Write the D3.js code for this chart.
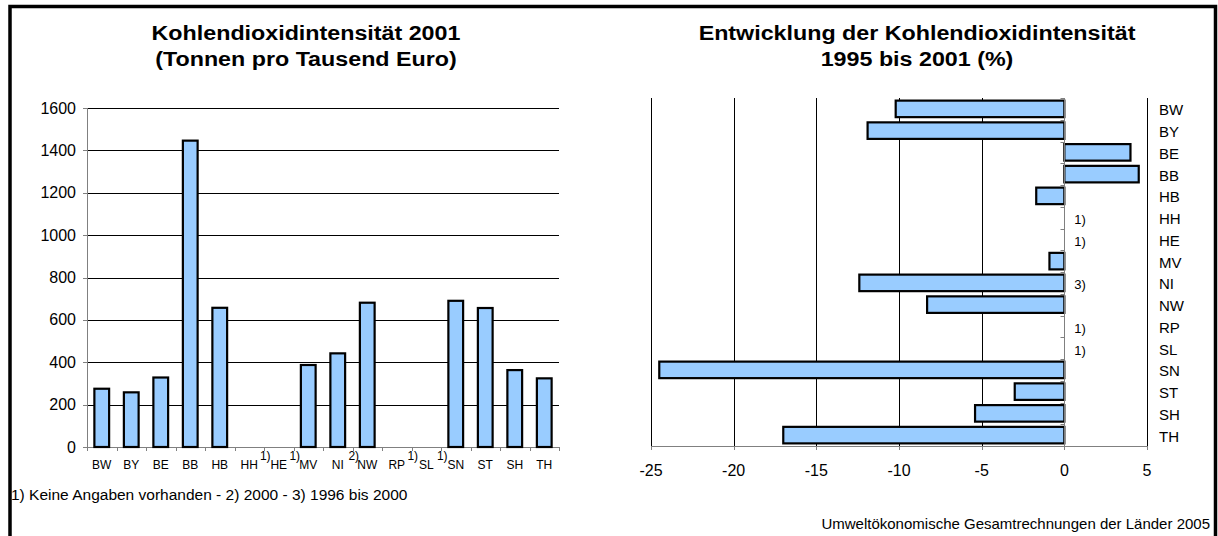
<!DOCTYPE html>
<html><head><meta charset="utf-8">
<script src="https://cdn.jsdelivr.net/npm/d3@7"></script>
<style>
html,body{margin:0;padding:0;background:#fff;}
svg{display:block;font-family:"Liberation Sans",Arial,sans-serif;}
</style></head>
<body>
<svg id="c" width="1218" height="536"></svg>
<script>
const categories = ["BW","BY","BE","BB","HB","HH","HE","MV","NI","NW","RP","SL","SN","ST","SH","TH"];
const intensity2001 = [275, 258, 328, 1446, 657, null, null, 387, 442, 681, null, null, 690, 656, 363, 324];
const intensityNotes = ["","","","","","1)","1)","","2)","","1)","1)","","","",""];
const change1995to2001 = [-10.2, -11.9, 4.0, 4.5, -1.7, null, null, -0.9, -12.4, -8.3, null, null, -24.5, -3.0, -5.4, -17.0];
const changeNotes = ["","","","","","1)","1)","","3)","","1)","1)","","","",""];
const leftTicks = [0,200,400,600,800,1000,1200,1400,1600];
const rightTicks = [-25,-20,-15,-10,-5,0,5];
const leftTitle = ["Kohlendioxidintensität 2001","(Tonnen pro Tausend Euro)"];
const rightTitle = ["Entwicklung der Kohlendioxidintensität","1995 bis 2001 (%)"];
const footnote = "1) Keine Angaben vorhanden - 2) 2000 - 3) 1996 bis 2000";
const source = "Umweltökonomische Gesamtrechnungen der Länder 2005";

const svg = d3.select("#c");
const FILL = "#99CCFF";

// frame
svg.append("path").attr("d","M10,540 L10,6.5 L1215.5,6.5 L1215.5,540")
  .attr("fill","none").attr("stroke","#000").attr("stroke-width",3.5);

function title(g, lines, cx) {
  lines.forEach((t,i) => {
    g.append("g").attr("transform",`translate(${cx},${33.5+i*26}) scale(1.2,1)`)
      .append("text").attr("text-anchor","middle").attr("dominant-baseline","central")
      .attr("font-size",19.4).attr("font-weight","bold").text(t);
  });
}

// ---------- Left chart ----------
const xL = d3.scaleBand().domain(categories).range([87,559]);
const yL = d3.scaleLinear().domain([0,1600]).range([447,108]);
const gL = svg.append("g");

gL.selectAll("line.grid").data(leftTicks.filter(d=>d>0)).join("line")
  .attr("x1",87).attr("x2",559).attr("y1",d=>Math.round(yL(d))+0.5).attr("y2",d=>Math.round(yL(d))+0.5)
  .attr("stroke","#000").attr("stroke-width",1);

gL.append("line").attr("x1",87.5).attr("x2",87.5).attr("y1",108).attr("y2",447.5).attr("stroke","#808080");
gL.selectAll("line.yt").data(leftTicks).join("line")
  .attr("x1",83).attr("x2",87).attr("y1",d=>Math.round(yL(d))+0.5).attr("y2",d=>Math.round(yL(d))+0.5).attr("stroke","#808080");
gL.selectAll("text.yl").data(leftTicks).join("text")
  .attr("x",76).attr("y",d=>yL(d)).attr("text-anchor","end").attr("dominant-baseline","central")
  .attr("font-size",16).text(d=>d);

gL.append("line").attr("x1",87).attr("x2",559).attr("y1",447.5).attr("y2",447.5).attr("stroke","#808080");
const bounds = categories.map(c=>xL(c)).concat([xL(categories[categories.length-1])+xL.step()]);
gL.selectAll("line.xt").data(bounds).join("line")
  .attr("x1",d=>Math.round(d)+0.5).attr("x2",d=>Math.round(d)+0.5).attr("y1",447).attr("y2",451).attr("stroke","#808080");
gL.selectAll("text.xl").data(categories).join("text")
  .attr("x",d=>xL(d)+xL.bandwidth()/2).attr("y",465).attr("text-anchor","middle").attr("dominant-baseline","central")
  .attr("font-size",12).text(d=>d);
gL.selectAll("text.xn").data(categories.map((c,i)=>({c,n:intensityNotes[i]})).filter(d=>d.n)).join("text")
  .attr("x",d=>xL(d.c)+xL.bandwidth()/2+16).attr("y",456).attr("text-anchor","middle").attr("dominant-baseline","central")
  .attr("font-size",12).text(d=>d.n);

const bwL = xL.bandwidth()*0.5;
gL.selectAll("rect.bar").data(categories.map((c,i)=>({c,v:intensity2001[i]})).filter(d=>d.v!=null)).join("rect")
  .attr("x",d=>xL(d.c)+(xL.bandwidth()-bwL)/2).attr("width",bwL)
  .attr("y",d=>yL(d.v)).attr("height",d=>yL(0)-yL(d.v))
  .attr("fill",FILL).attr("stroke","#000").attr("stroke-width",2.2);

title(gL, leftTitle, 306);

svg.append("text").attr("x",11).attr("y",494).attr("dominant-baseline","central").attr("font-size",15.5).text(footnote);

// ---------- Right chart ----------
const xR = d3.scaleLinear().domain([-25,5]).range([651,1147]);
const yR = d3.scaleBand().domain(categories).range([98,446]);
const gR = svg.append("g");

gR.selectAll("line.grid").data(rightTicks.filter(d=>d!==0)).join("line")
  .attr("x1",d=>Math.round(xR(d))+0.5).attr("x2",d=>Math.round(xR(d))+0.5).attr("y1",98).attr("y2",446)
  .attr("stroke","#000").attr("stroke-width",1);

gR.append("line").attr("x1",651).attr("x2",1147).attr("y1",446.5).attr("y2",446.5).attr("stroke","#808080");
gR.selectAll("line.xt").data(rightTicks).join("line")
  .attr("x1",d=>Math.round(xR(d))+0.5).attr("x2",d=>Math.round(xR(d))+0.5).attr("y1",446).attr("y2",450).attr("stroke","#808080");
gR.selectAll("text.xl").data(rightTicks).join("text")
  .attr("x",d=>xR(d)).attr("y",470).attr("text-anchor","middle").attr("dominant-baseline","central")
  .attr("font-size",16).text(d=>String(d));

const bhR = yR.bandwidth()*0.76;
gR.selectAll("rect.bar").data(categories.map((c,i)=>({c,v:change1995to2001[i]})).filter(d=>d.v!=null)).join("rect")
  .attr("x",d=>xR(Math.min(0,d.v))).attr("width",d=>Math.abs(xR(d.v)-xR(0)))
  .attr("y",d=>yR(d.c)+(yR.bandwidth()-bhR)/2).attr("height",bhR)
  .attr("fill",FILL).attr("stroke","#000").attr("stroke-width",2.2);

const x0 = Math.round(xR(0))+0.5;
gR.append("line").attr("x1",x0).attr("x2",x0).attr("y1",98).attr("y2",446).attr("stroke","#808080");
const rb = categories.map(c=>yR(c)).concat([yR(categories[categories.length-1])+yR.step()]);
gR.selectAll("line.yt").data(rb).join("line")
  .attr("x1",x0-4).attr("x2",x0).attr("y1",d=>Math.round(d)+0.5).attr("y2",d=>Math.round(d)+0.5).attr("stroke","#808080");

gR.selectAll("text.yl").data(categories).join("text")
  .attr("x",1159).attr("y",d=>yR(d)+yR.bandwidth()/2+1).attr("dominant-baseline","central")
  .attr("font-size",15).text(d=>d);
gR.selectAll("text.yn").data(categories.map((c,i)=>({c,n:changeNotes[i]})).filter(d=>d.n)).join("text")
  .attr("x",1080).attr("y",d=>yR(d.c)+yR.bandwidth()/2+2).attr("text-anchor","middle").attr("dominant-baseline","central")
  .attr("font-size",13).text(d=>d.n);

title(gR, rightTitle, 917);

svg.append("text").attr("x",1210).attr("y",523).attr("text-anchor","end").attr("dominant-baseline","central")
  .attr("font-size",15).text(source);
</script>
</body></html>
